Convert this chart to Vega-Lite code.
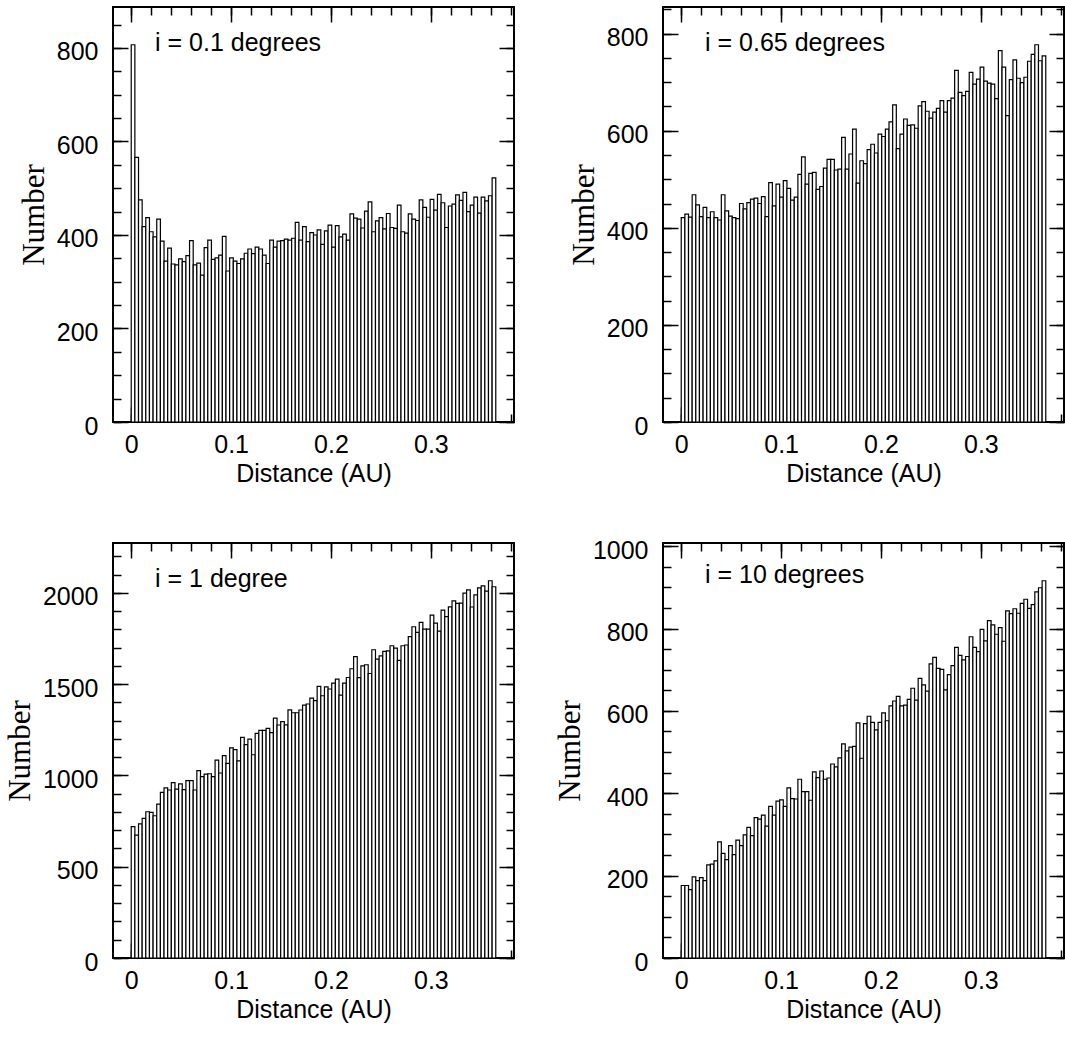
{
"$schema": "https://vega.github.io/schema/vega-lite/v6.json",
"padding": {"left": 3, "top": 5, "right": 0, "bottom": 0},
"autosize": {"type": "pad"},
"datasets": {"h": [
{"a":0,"b":0.00365,"p1":807,"p2":421,"p3":719,"p4":176},
{"a":0.00365,"b":0.0073,"p1":566,"p2":428,"p3":673,"p4":176},
{"a":0.0073,"b":0.01095,"p1":475,"p2":422,"p3":734,"p4":166},
{"a":0.01095,"b":0.0146,"p1":418,"p2":468,"p3":765,"p4":197},
{"a":0.0146,"b":0.01825,"p1":437,"p2":447,"p3":801,"p4":188},
{"a":0.01825,"b":0.0219,"p1":407,"p2":423,"p3":797,"p4":195},
{"a":0.0219,"b":0.02555,"p1":396,"p2":442,"p3":779,"p4":188},
{"a":0.02555,"b":0.0292,"p1":434,"p2":421,"p3":843,"p4":226},
{"a":0.0292,"b":0.03285,"p1":387,"p2":433,"p3":907,"p4":228},
{"a":0.03285,"b":0.0365,"p1":344,"p2":421,"p3":932,"p4":236},
{"a":0.0365,"b":0.04015,"p1":372,"p2":416,"p3":920,"p4":282},
{"a":0.04015,"b":0.0438,"p1":338,"p2":468,"p3":960,"p4":254},
{"a":0.0438,"b":0.04745,"p1":336,"p2":435,"p3":925,"p4":239},
{"a":0.04745,"b":0.0511,"p1":349,"p2":424,"p3":953,"p4":273},
{"a":0.0511,"b":0.05475,"p1":343,"p2":421,"p3":922,"p4":251},
{"a":0.05475,"b":0.0584,"p1":356,"p2":419,"p3":971,"p4":286},
{"a":0.0584,"b":0.06205,"p1":388,"p2":450,"p3":971,"p4":273},
{"a":0.06205,"b":0.0657,"p1":336,"p2":439,"p3":920,"p4":299},
{"a":0.0657,"b":0.06935,"p1":340,"p2":452,"p3":1026,"p4":317},
{"a":0.06935,"b":0.073,"p1":314,"p2":459,"p3":993,"p4":297},
{"a":0.073,"b":0.07665,"p1":373,"p2":461,"p3":1007,"p4":341},
{"a":0.07665,"b":0.0803,"p1":389,"p2":450,"p3":1009,"p4":337},
{"a":0.0803,"b":0.08395,"p1":348,"p2":464,"p3":993,"p4":347},
{"a":0.08395,"b":0.0876,"p1":351,"p2":423,"p3":1084,"p4":320},
{"a":0.0876,"b":0.09125,"p1":357,"p2":493,"p3":1013,"p4":368},
{"a":0.09125,"b":0.0949,"p1":397,"p2":445,"p3":1108,"p4":347},
{"a":0.0949,"b":0.09855,"p1":323,"p2":490,"p3":1066,"p4":381},
{"a":0.09855,"b":0.1022,"p1":351,"p2":463,"p3":1151,"p4":384},
{"a":0.1022,"b":0.10585,"p1":344,"p2":497,"p3":1141,"p4":368},
{"a":0.10585,"b":0.1095,"p1":339,"p2":481,"p3":1080,"p4":413},
{"a":0.1095,"b":0.11315,"p1":349,"p2":457,"p3":1208,"p4":387},
{"a":0.11315,"b":0.1168,"p1":361,"p2":463,"p3":1168,"p4":386},
{"a":0.1168,"b":0.12045,"p1":370,"p2":510,"p3":1199,"p4":434},
{"a":0.12045,"b":0.1241,"p1":360,"p2":546,"p3":1113,"p4":404},
{"a":0.1241,"b":0.12775,"p1":374,"p2":490,"p3":1230,"p4":404},
{"a":0.12775,"b":0.1314,"p1":370,"p2":512,"p3":1246,"p4":383},
{"a":0.1314,"b":0.13505,"p1":357,"p2":514,"p3":1246,"p4":452},
{"a":0.13505,"b":0.1387,"p1":339,"p2":479,"p3":1257,"p4":438},
{"a":0.1387,"b":0.14235,"p1":389,"p2":485,"p3":1234,"p4":454},
{"a":0.14235,"b":0.146,"p1":374,"p2":523,"p3":1314,"p4":434},
{"a":0.146,"b":0.14965,"p1":387,"p2":541,"p3":1276,"p4":437},
{"a":0.14965,"b":0.1533,"p1":388,"p2":541,"p3":1294,"p4":471},
{"a":0.1533,"b":0.15695,"p1":391,"p2":519,"p3":1277,"p4":464},
{"a":0.15695,"b":0.1606,"p1":389,"p2":521,"p3":1359,"p4":486},
{"a":0.1606,"b":0.16425,"p1":393,"p2":586,"p3":1343,"p4":520},
{"a":0.16425,"b":0.1679,"p1":427,"p2":521,"p3":1343,"p4":503},
{"a":0.1679,"b":0.17155,"p1":389,"p2":552,"p3":1358,"p4":512},
{"a":0.17155,"b":0.1752,"p1":418,"p2":603,"p3":1385,"p4":514},
{"a":0.1752,"b":0.17885,"p1":386,"p2":492,"p3":1391,"p4":571},
{"a":0.17885,"b":0.1825,"p1":405,"p2":538,"p3":1423,"p4":485},
{"a":0.1825,"b":0.18615,"p1":400,"p2":532,"p3":1409,"p4":569},
{"a":0.18615,"b":0.1898,"p1":411,"p2":561,"p3":1487,"p4":587},
{"a":0.1898,"b":0.19345,"p1":380,"p2":572,"p3":1436,"p4":572},
{"a":0.19345,"b":0.1971,"p1":409,"p2":554,"p3":1485,"p4":554},
{"a":0.1971,"b":0.20075,"p1":421,"p2":593,"p3":1473,"p4":572},
{"a":0.20075,"b":0.2044,"p1":374,"p2":588,"p3":1505,"p4":595},
{"a":0.2044,"b":0.20805,"p1":420,"p2":603,"p3":1527,"p4":576},
{"a":0.20805,"b":0.2117,"p1":396,"p2":618,"p3":1440,"p4":612},
{"a":0.2117,"b":0.21535,"p1":402,"p2":653,"p3":1505,"p4":624},
{"a":0.21535,"b":0.219,"p1":389,"p2":563,"p3":1536,"p4":635},
{"a":0.219,"b":0.22265,"p1":445,"p2":593,"p3":1584,"p4":612},
{"a":0.22265,"b":0.2263,"p1":436,"p2":624,"p3":1650,"p4":614},
{"a":0.2263,"b":0.22995,"p1":434,"p2":611,"p3":1535,"p4":628},
{"a":0.22995,"b":0.2336,"p1":415,"p2":612,"p3":1600,"p4":655},
{"a":0.2336,"b":0.23725,"p1":451,"p2":605,"p3":1606,"p4":626},
{"a":0.23725,"b":0.2409,"p1":471,"p2":651,"p3":1558,"p4":679},
{"a":0.2409,"b":0.24455,"p1":407,"p2":660,"p3":1688,"p4":663},
{"a":0.24455,"b":0.2482,"p1":430,"p2":640,"p3":1637,"p4":648},
{"a":0.2482,"b":0.25185,"p1":437,"p2":626,"p3":1655,"p4":714},
{"a":0.25185,"b":0.2555,"p1":413,"p2":638,"p3":1679,"p4":730},
{"a":0.2555,"b":0.25915,"p1":446,"p2":646,"p3":1682,"p4":703},
{"a":0.25915,"b":0.2628,"p1":416,"p2":662,"p3":1710,"p4":701},
{"a":0.2628,"b":0.26645,"p1":414,"p2":638,"p3":1697,"p4":651},
{"a":0.26645,"b":0.2701,"p1":464,"p2":662,"p3":1630,"p4":688},
{"a":0.2701,"b":0.27375,"p1":407,"p2":667,"p3":1710,"p4":710},
{"a":0.27375,"b":0.2774,"p1":404,"p2":724,"p3":1714,"p4":754},
{"a":0.2774,"b":0.28105,"p1":445,"p2":679,"p3":1760,"p4":735},
{"a":0.28105,"b":0.2847,"p1":434,"p2":672,"p3":1814,"p4":724},
{"a":0.2847,"b":0.28835,"p1":431,"p2":681,"p3":1783,"p4":732},
{"a":0.28835,"b":0.292,"p1":475,"p2":720,"p3":1838,"p4":780},
{"a":0.292,"b":0.29565,"p1":459,"p2":696,"p3":1801,"p4":754},
{"a":0.29565,"b":0.2993,"p1":438,"p2":706,"p3":1801,"p4":744},
{"a":0.2993,"b":0.30295,"p1":476,"p2":731,"p3":1878,"p4":798},
{"a":0.30295,"b":0.3066,"p1":453,"p2":702,"p3":1834,"p4":770},
{"a":0.3066,"b":0.31025,"p1":487,"p2":698,"p3":1790,"p4":819},
{"a":0.31025,"b":0.3139,"p1":469,"p2":696,"p3":1905,"p4":809},
{"a":0.3139,"b":0.31755,"p1":416,"p2":666,"p3":1869,"p4":786},
{"a":0.31755,"b":0.3212,"p1":462,"p2":765,"p3":1923,"p4":802},
{"a":0.3212,"b":0.32485,"p1":466,"p2":731,"p3":1956,"p4":769},
{"a":0.32485,"b":0.3285,"p1":486,"p2":631,"p3":1942,"p4":843},
{"a":0.3285,"b":0.33215,"p1":474,"p2":705,"p3":1943,"p4":836},
{"a":0.33215,"b":0.3358,"p1":491,"p2":746,"p3":1998,"p4":848},
{"a":0.3358,"b":0.33945,"p1":450,"p2":708,"p3":2016,"p4":837},
{"a":0.33945,"b":0.3431,"p1":464,"p2":699,"p3":1922,"p4":861},
{"a":0.3431,"b":0.34675,"p1":481,"p2":710,"p3":1989,"p4":871},
{"a":0.34675,"b":0.3504,"p1":447,"p2":743,"p3":2027,"p4":849},
{"a":0.3504,"b":0.35405,"p1":481,"p2":757,"p3":2038,"p4":858},
{"a":0.35405,"b":0.3577,"p1":473,"p2":777,"p3":2009,"p4":889},
{"a":0.3577,"b":0.36135,"p1":484,"p2":744,"p3":2066,"p4":899},
{"a":0.36135,"b":0.365,"p1":522,"p2":754,"p3":2033,"p4":916}
]},
"data": {"name": "h"},
"columns": 2,
"bounds": "flush",
"spacing": {"row": 121, "column": 149},
"concat": [
{
 "width": 401, "height": 415,
 "title": {"text": "i = 0.1 degrees"},
 "layer": [
  {"mark": {"type": "rect", "fill": "white", "stroke": "black", "strokeWidth": 1.2},
   "encoding": {
    "x": {"field": "a", "type": "quantitative", "scale": {"domain": [-0.01825, 0.38325], "nice": false, "zero": false}, "axis": {"orient": "bottom", "values": [0, 0.1, 0.2, 0.3], "ticks": false, "tickSize": 0, "format": "~g", "title": "Distance (AU)"}},
    "x2": {"field": "b"},
    "y": {"field": "p1", "type": "quantitative", "scale": {"domain": [0, 887.7], "nice": false}, "axis": {"orient": "left", "values": [0, 200, 400, 600, 800], "ticks": false, "tickSize": 0, "format": "d", "title": "Number"}},
    "y2": {"datum": 0}
   }},
  {"mark": {"type": "point", "opacity": 0},
   "encoding": {
    "x": {"field": "a", "type": "quantitative", "scale": {"domain": [-0.01825, 0.38325], "nice": false, "zero": false}, "axis": {"orient": "bottom", "values": [0, 0.1, 0.2, 0.3], "labels": false, "title": null, "tickSize": 15, "offset": -15}},
    "y": {"field": "p1", "type": "quantitative", "scale": {"domain": [0, 887.7], "nice": false}, "axis": {"orient": "left", "values": [0, 200, 400, 600, 800], "labels": false, "title": null, "tickSize": 15, "offset": -15}}
   }},
  {"mark": {"type": "point", "opacity": 0},
   "encoding": {
    "x": {"field": "a", "type": "quantitative", "scale": {"domain": [-0.01825, 0.38325], "nice": false, "zero": false}, "axis": {"orient": "bottom", "values": [0,0.02,0.04,0.06,0.08,0.1,0.12,0.14,0.16,0.18,0.2,0.22,0.24,0.26,0.28,0.3,0.32,0.34,0.36,0.38], "labels": false, "title": null, "tickSize": 8, "offset": -8}},
    "y": {"field": "p1", "type": "quantitative", "scale": {"domain": [0, 887.7], "nice": false}, "axis": {"orient": "left", "values": [0,50,100,150,200,250,300,350,400,450,500,550,600,650,700,750,800,850], "labels": false, "title": null, "tickSize": 8, "offset": -8}}
   }},
  {"mark": {"type": "point", "opacity": 0},
   "encoding": {
    "x": {"field": "a", "type": "quantitative", "scale": {"domain": [-0.01825, 0.38325], "nice": false, "zero": false}, "axis": {"orient": "top", "values": [0, 0.1, 0.2, 0.3], "labels": false, "title": null, "tickSize": 15, "offset": -15}},
    "y": {"field": "p1", "type": "quantitative", "scale": {"domain": [0, 887.7], "nice": false}, "axis": {"orient": "right", "values": [0, 200, 400, 600, 800], "labels": false, "title": null, "tickSize": 15, "offset": -15}}
   }},
  {"mark": {"type": "point", "opacity": 0},
   "encoding": {
    "x": {"field": "a", "type": "quantitative", "scale": {"domain": [-0.01825, 0.38325], "nice": false, "zero": false}, "axis": {"orient": "top", "values": [0,0.02,0.04,0.06,0.08,0.1,0.12,0.14,0.16,0.18,0.2,0.22,0.24,0.26,0.28,0.3,0.32,0.34,0.36,0.38], "labels": false, "title": null, "tickSize": 8, "offset": -8}},
    "y": {"field": "p1", "type": "quantitative", "scale": {"domain": [0, 887.7], "nice": false}, "axis": {"orient": "right", "values": [0,50,100,150,200,250,300,350,400,450,500,550,600,650,700,750,800,850], "labels": false, "title": null, "tickSize": 8, "offset": -8}}
   }}
 ],
 "resolve": {"axis": {"x": "independent", "y": "independent"}}
},
{
 "width": 401, "height": 415,
 "title": {"text": "i = 0.65 degrees"},
 "layer": [
  {"mark": {"type": "rect", "fill": "white", "stroke": "black", "strokeWidth": 1.2},
   "encoding": {
    "x": {"field": "a", "type": "quantitative", "scale": {"domain": [-0.01825, 0.38325], "nice": false, "zero": false}, "axis": {"orient": "bottom", "values": [0, 0.1, 0.2, 0.3], "ticks": false, "tickSize": 0, "format": "~g", "title": "Distance (AU)"}},
    "x2": {"field": "b"},
    "y": {"field": "p2", "type": "quantitative", "scale": {"domain": [0, 854.7], "nice": false}, "axis": {"orient": "left", "values": [0, 200, 400, 600, 800], "ticks": false, "tickSize": 0, "format": "d", "title": "Number"}},
    "y2": {"datum": 0}
   }},
  {"mark": {"type": "point", "opacity": 0},
   "encoding": {
    "x": {"field": "a", "type": "quantitative", "scale": {"domain": [-0.01825, 0.38325], "nice": false, "zero": false}, "axis": {"orient": "bottom", "values": [0, 0.1, 0.2, 0.3], "labels": false, "title": null, "tickSize": 15, "offset": -15}},
    "y": {"field": "p2", "type": "quantitative", "scale": {"domain": [0, 854.7], "nice": false}, "axis": {"orient": "left", "values": [0, 200, 400, 600, 800], "labels": false, "title": null, "tickSize": 15, "offset": -15}}
   }},
  {"mark": {"type": "point", "opacity": 0},
   "encoding": {
    "x": {"field": "a", "type": "quantitative", "scale": {"domain": [-0.01825, 0.38325], "nice": false, "zero": false}, "axis": {"orient": "bottom", "values": [0,0.02,0.04,0.06,0.08,0.1,0.12,0.14,0.16,0.18,0.2,0.22,0.24,0.26,0.28,0.3,0.32,0.34,0.36,0.38], "labels": false, "title": null, "tickSize": 8, "offset": -8}},
    "y": {"field": "p2", "type": "quantitative", "scale": {"domain": [0, 854.7], "nice": false}, "axis": {"orient": "left", "values": [0,50,100,150,200,250,300,350,400,450,500,550,600,650,700,750,800,850], "labels": false, "title": null, "tickSize": 8, "offset": -8}}
   }},
  {"mark": {"type": "point", "opacity": 0},
   "encoding": {
    "x": {"field": "a", "type": "quantitative", "scale": {"domain": [-0.01825, 0.38325], "nice": false, "zero": false}, "axis": {"orient": "top", "values": [0, 0.1, 0.2, 0.3], "labels": false, "title": null, "tickSize": 15, "offset": -15}},
    "y": {"field": "p2", "type": "quantitative", "scale": {"domain": [0, 854.7], "nice": false}, "axis": {"orient": "right", "values": [0, 200, 400, 600, 800], "labels": false, "title": null, "tickSize": 15, "offset": -15}}
   }},
  {"mark": {"type": "point", "opacity": 0},
   "encoding": {
    "x": {"field": "a", "type": "quantitative", "scale": {"domain": [-0.01825, 0.38325], "nice": false, "zero": false}, "axis": {"orient": "top", "values": [0,0.02,0.04,0.06,0.08,0.1,0.12,0.14,0.16,0.18,0.2,0.22,0.24,0.26,0.28,0.3,0.32,0.34,0.36,0.38], "labels": false, "title": null, "tickSize": 8, "offset": -8}},
    "y": {"field": "p2", "type": "quantitative", "scale": {"domain": [0, 854.7], "nice": false}, "axis": {"orient": "right", "values": [0,50,100,150,200,250,300,350,400,450,500,550,600,650,700,750,800,850], "labels": false, "title": null, "tickSize": 8, "offset": -8}}
   }}
 ],
 "resolve": {"axis": {"x": "independent", "y": "independent"}}
},
{
 "width": 401, "height": 415,
 "title": {"text": "i = 1 degree"},
 "layer": [
  {"mark": {"type": "rect", "fill": "white", "stroke": "black", "strokeWidth": 1.2},
   "encoding": {
    "x": {"field": "a", "type": "quantitative", "scale": {"domain": [-0.01825, 0.38325], "nice": false, "zero": false}, "axis": {"orient": "bottom", "values": [0, 0.1, 0.2, 0.3], "ticks": false, "tickSize": 0, "format": "~g", "title": "Distance (AU)"}},
    "x2": {"field": "b"},
    "y": {"field": "p3", "type": "quantitative", "scale": {"domain": [0, 2272.6], "nice": false}, "axis": {"orient": "left", "values": [0, 500, 1000, 1500, 2000], "ticks": false, "tickSize": 0, "format": "d", "title": "Number"}},
    "y2": {"datum": 0}
   }},
  {"mark": {"type": "point", "opacity": 0},
   "encoding": {
    "x": {"field": "a", "type": "quantitative", "scale": {"domain": [-0.01825, 0.38325], "nice": false, "zero": false}, "axis": {"orient": "bottom", "values": [0, 0.1, 0.2, 0.3], "labels": false, "title": null, "tickSize": 15, "offset": -15}},
    "y": {"field": "p3", "type": "quantitative", "scale": {"domain": [0, 2272.6], "nice": false}, "axis": {"orient": "left", "values": [0, 500, 1000, 1500, 2000], "labels": false, "title": null, "tickSize": 15, "offset": -15}}
   }},
  {"mark": {"type": "point", "opacity": 0},
   "encoding": {
    "x": {"field": "a", "type": "quantitative", "scale": {"domain": [-0.01825, 0.38325], "nice": false, "zero": false}, "axis": {"orient": "bottom", "values": [0,0.02,0.04,0.06,0.08,0.1,0.12,0.14,0.16,0.18,0.2,0.22,0.24,0.26,0.28,0.3,0.32,0.34,0.36,0.38], "labels": false, "title": null, "tickSize": 8, "offset": -8}},
    "y": {"field": "p3", "type": "quantitative", "scale": {"domain": [0, 2272.6], "nice": false}, "axis": {"orient": "left", "values": [0,100,200,300,400,500,600,700,800,900,1000,1100,1200,1300,1400,1500,1600,1700,1800,1900,2000,2100,2200], "labels": false, "title": null, "tickSize": 8, "offset": -8}}
   }},
  {"mark": {"type": "point", "opacity": 0},
   "encoding": {
    "x": {"field": "a", "type": "quantitative", "scale": {"domain": [-0.01825, 0.38325], "nice": false, "zero": false}, "axis": {"orient": "top", "values": [0, 0.1, 0.2, 0.3], "labels": false, "title": null, "tickSize": 15, "offset": -15}},
    "y": {"field": "p3", "type": "quantitative", "scale": {"domain": [0, 2272.6], "nice": false}, "axis": {"orient": "right", "values": [0, 500, 1000, 1500, 2000], "labels": false, "title": null, "tickSize": 15, "offset": -15}}
   }},
  {"mark": {"type": "point", "opacity": 0},
   "encoding": {
    "x": {"field": "a", "type": "quantitative", "scale": {"domain": [-0.01825, 0.38325], "nice": false, "zero": false}, "axis": {"orient": "top", "values": [0,0.02,0.04,0.06,0.08,0.1,0.12,0.14,0.16,0.18,0.2,0.22,0.24,0.26,0.28,0.3,0.32,0.34,0.36,0.38], "labels": false, "title": null, "tickSize": 8, "offset": -8}},
    "y": {"field": "p3", "type": "quantitative", "scale": {"domain": [0, 2272.6], "nice": false}, "axis": {"orient": "right", "values": [0,100,200,300,400,500,600,700,800,900,1000,1100,1200,1300,1400,1500,1600,1700,1800,1900,2000,2100,2200], "labels": false, "title": null, "tickSize": 8, "offset": -8}}
   }}
 ],
 "resolve": {"axis": {"x": "independent", "y": "independent"}}
},
{
 "width": 401, "height": 415,
 "title": {"text": "i = 10 degrees"},
 "layer": [
  {"mark": {"type": "rect", "fill": "white", "stroke": "black", "strokeWidth": 1.2},
   "encoding": {
    "x": {"field": "a", "type": "quantitative", "scale": {"domain": [-0.01825, 0.38325], "nice": false, "zero": false}, "axis": {"orient": "bottom", "values": [0, 0.1, 0.2, 0.3], "ticks": false, "tickSize": 0, "format": "~g", "title": "Distance (AU)"}},
    "x2": {"field": "b"},
    "y": {"field": "p4", "type": "quantitative", "scale": {"domain": [0, 1007.6], "nice": false}, "axis": {"orient": "left", "values": [0, 200, 400, 600, 800, 1000], "ticks": false, "tickSize": 0, "format": "d", "title": "Number"}},
    "y2": {"datum": 0}
   }},
  {"mark": {"type": "point", "opacity": 0},
   "encoding": {
    "x": {"field": "a", "type": "quantitative", "scale": {"domain": [-0.01825, 0.38325], "nice": false, "zero": false}, "axis": {"orient": "bottom", "values": [0, 0.1, 0.2, 0.3], "labels": false, "title": null, "tickSize": 15, "offset": -15}},
    "y": {"field": "p4", "type": "quantitative", "scale": {"domain": [0, 1007.6], "nice": false}, "axis": {"orient": "left", "values": [0, 200, 400, 600, 800, 1000], "labels": false, "title": null, "tickSize": 15, "offset": -15}}
   }},
  {"mark": {"type": "point", "opacity": 0},
   "encoding": {
    "x": {"field": "a", "type": "quantitative", "scale": {"domain": [-0.01825, 0.38325], "nice": false, "zero": false}, "axis": {"orient": "bottom", "values": [0,0.02,0.04,0.06,0.08,0.1,0.12,0.14,0.16,0.18,0.2,0.22,0.24,0.26,0.28,0.3,0.32,0.34,0.36,0.38], "labels": false, "title": null, "tickSize": 8, "offset": -8}},
    "y": {"field": "p4", "type": "quantitative", "scale": {"domain": [0, 1007.6], "nice": false}, "axis": {"orient": "left", "values": [0,50,100,150,200,250,300,350,400,450,500,550,600,650,700,750,800,850,900,950,1000], "labels": false, "title": null, "tickSize": 8, "offset": -8}}
   }},
  {"mark": {"type": "point", "opacity": 0},
   "encoding": {
    "x": {"field": "a", "type": "quantitative", "scale": {"domain": [-0.01825, 0.38325], "nice": false, "zero": false}, "axis": {"orient": "top", "values": [0, 0.1, 0.2, 0.3], "labels": false, "title": null, "tickSize": 15, "offset": -15}},
    "y": {"field": "p4", "type": "quantitative", "scale": {"domain": [0, 1007.6], "nice": false}, "axis": {"orient": "right", "values": [0, 200, 400, 600, 800, 1000], "labels": false, "title": null, "tickSize": 15, "offset": -15}}
   }},
  {"mark": {"type": "point", "opacity": 0},
   "encoding": {
    "x": {"field": "a", "type": "quantitative", "scale": {"domain": [-0.01825, 0.38325], "nice": false, "zero": false}, "axis": {"orient": "top", "values": [0,0.02,0.04,0.06,0.08,0.1,0.12,0.14,0.16,0.18,0.2,0.22,0.24,0.26,0.28,0.3,0.32,0.34,0.36,0.38], "labels": false, "title": null, "tickSize": 8, "offset": -8}},
    "y": {"field": "p4", "type": "quantitative", "scale": {"domain": [0, 1007.6], "nice": false}, "axis": {"orient": "right", "values": [0,50,100,150,200,250,300,350,400,450,500,550,600,650,700,750,800,850,900,950,1000], "labels": false, "title": null, "tickSize": 8, "offset": -8}}
   }}
 ],
 "resolve": {"axis": {"x": "independent", "y": "independent"}}
}
],
"config": {
 "view": {"stroke": "black", "strokeWidth": 2},
 "axis": {"grid": false, "domain": false, "labelFont": "Liberation Sans", "labelFontSize": 25, "labelColor": "black", "tickColor": "black", "tickWidth": 1.5, "titleFont": "Liberation Sans", "titleFontSize": 25, "titleFontWeight": "normal", "titleColor": "black"},
 "axisX": {"labelPadding": 10, "titlePadding": 4},
 "axisY": {"labelPadding": 15, "titlePadding": 6, "titleFont": "Liberation Serif", "titleFontSize": 31, "labelOffset": 4},
 "title": {"anchor": "start", "frame": "group", "font": "Liberation Sans", "fontSize": 25, "fontWeight": "normal", "color": "black", "offset": -50, "dx": 42, "baseline": "alphabetic"}
}
}
